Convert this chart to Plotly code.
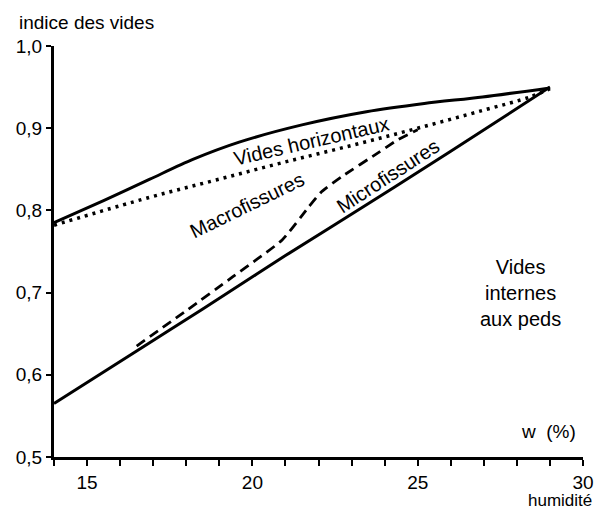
import plotly.graph_objects as go

# humidité w (%) vs indice des vides
upper_w = [14, 15.5, 16.9, 18.2, 19.6, 21.5, 23.45, 25.2, 26.96, 29]
upper_e = [0.785, 0.812, 0.838, 0.862, 0.883, 0.904, 0.92, 0.93, 0.938, 0.949]

dotted_w = [14, 16.9, 18.9, 20.9, 23, 25, 27, 28.4, 29]
dotted_e = [0.782, 0.816, 0.837, 0.858, 0.879, 0.9, 0.922, 0.938, 0.948]

dashed_w = [16.5, 18, 19.4, 20.9, 21.7, 22.1, 22.7, 23.8, 24.4, 25]
dashed_e = [0.635, 0.678, 0.719, 0.764, 0.804, 0.823, 0.841, 0.87, 0.886, 0.898]

lower_w = [14, 16.5, 18.5, 21, 23.5, 26, 29]
lower_e = [0.565, 0.629, 0.68, 0.745, 0.808, 0.872, 0.95]

y_ticks = [0.5, 0.6, 0.7, 0.8, 0.9, 1.0]
x_ticks = [15, 20, 25, 30]

FONT = "Liberation Sans, Arial, sans-serif"

fig = go.Figure()
fig.add_trace(go.Scatter(x=upper_w, y=upper_e, mode="lines",
                         line=dict(color="black", width=3, shape="spline",
                                   smoothing=0.8)))
fig.add_trace(go.Scatter(x=dotted_w, y=dotted_e, mode="lines",
                         line=dict(color="black", width=3.5, dash="3px,5px",
                                   shape="spline")))
fig.add_trace(go.Scatter(x=dashed_w, y=dashed_e, mode="lines",
                         line=dict(color="black", width=2.8, dash="10px,6px",
                                   shape="spline", smoothing=0.5)))
fig.add_trace(go.Scatter(x=lower_w, y=lower_e, mode="lines",
                         line=dict(color="black", width=3, shape="spline")))

labels = [
    dict(x=21.8, y=0.885, text="Vides horizontaux", textangle=-13),
    dict(x=19.85, y=0.806, text="Macrofissures", textangle=-26),
    dict(x=24.1, y=0.842, text="Microfissures", textangle=-33),
    dict(x=28.1, y=0.70, text="Vides<br>internes<br>aux peds", textangle=0),
]
for lab in labels:
    fig.add_annotation(x=lab["x"], y=lab["y"], text=lab["text"],
                       textangle=lab["textangle"], showarrow=False,
                       font=dict(size=20, color="black", family=FONT))

fig.add_annotation(xref="paper", yref="paper", x=-0.07, y=1.058,
                   xanchor="left", yanchor="middle", text="indice des vides",
                   showarrow=False, font=dict(size=19, color="black", family=FONT))
fig.add_annotation(xref="paper", yref="paper", x=0.99, y=0.062,
                   xanchor="right", yanchor="middle", text="w  (%)",
                   showarrow=False, font=dict(size=19, color="black", family=FONT))
fig.add_annotation(xref="paper", yref="paper", x=1.02, y=-0.105,
                   xanchor="right", yanchor="middle", text="humidité",
                   showarrow=False, font=dict(size=17, color="black", family=FONT))

# the page body adds an 8px margin, so the figure is 8px smaller than the window
fig.update_layout(
    width=605, height=505,
    margin=dict(l=46, r=30, t=38, b=56, autoexpand=False),
    plot_bgcolor="white", paper_bgcolor="white",
    showlegend=False,
    separators=", ",
    font=dict(family=FONT, color="black", size=19),
    xaxis=dict(range=[14, 30], tickvals=x_ticks, showline=True,
               linecolor="black", linewidth=3, ticks="outside", ticklen=6,
               tickwidth=2, tickcolor="black", showgrid=False, zeroline=False,
               automargin=False,
               minor=dict(dtick=1, tick0=14, ticks="outside", ticklen=6,
                          tickwidth=2, tickcolor="black", showgrid=False),
               tickfont=dict(size=19)),
    yaxis=dict(range=[0.5, 1.0], tickvals=y_ticks, tickformat=".1f",
               showline=True, linecolor="black", linewidth=3,
               automargin=False,
               ticks="outside", ticklen=5, tickwidth=2, tickcolor="black",
               showgrid=False, zeroline=False, tickfont=dict(size=19)),
)

fig.write_html("out.html")
